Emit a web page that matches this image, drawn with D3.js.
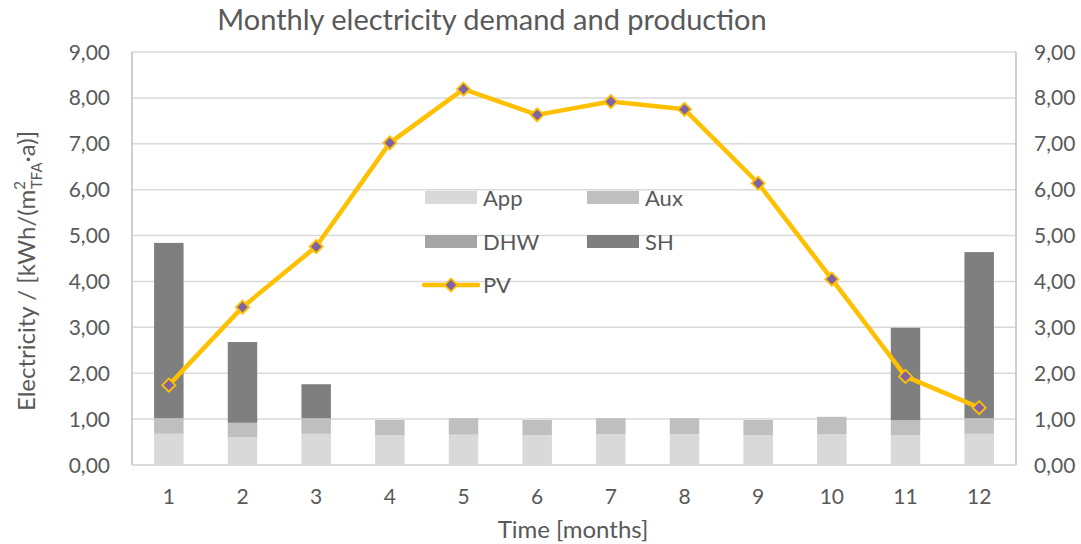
<!DOCTYPE html>
<html>
<head>
<meta charset="utf-8">
<script src="https://cdn.jsdelivr.net/npm/d3@7"></script>
<style>
  html, body { margin: 0; padding: 0; background: #fff; }
  svg text { font-family: Lato, "Open Sans", "Liberation Sans", sans-serif; fill: #595959; }
</style>
</head>
<body>
<svg id="chart" width="1081" height="544"></svg>
<script>
// Monthly electricity demand (stacked) and PV production, kWh/(m²TFA·a)
const months = [1, 2, 3, 4, 5, 6, 7, 8, 9, 10, 11, 12];
const app = [0.68, 0.61, 0.68, 0.65, 0.66, 0.65, 0.67, 0.67, 0.65, 0.67, 0.65, 0.68];
const aux = [0.34, 0.31, 0.34, 0.33, 0.36, 0.33, 0.35, 0.35, 0.33, 0.38, 0.33, 0.34];
const dhw = [0, 0, 0, 0, 0, 0, 0, 0, 0, 0, 0, 0];
const sh  = [3.82, 1.76, 0.74, 0, 0, 0, 0, 0, 0, 0, 2.01, 3.62];
const pv  = [1.74, 3.44, 4.76, 7.02, 8.19, 7.63, 7.92, 7.75, 6.14, 4.05, 1.93, 1.25];
const yTicks = [0, 1, 2, 3, 4, 5, 6, 7, 8, 9];

const seriesNames = ["App", "Aux", "DHW", "SH"];
const seriesColors = { App: "#d9d9d9", Aux: "#bfbfbf", DHW: "#a5a5a5", SH: "#7f7f7f" };
const pvColor = "#ffc000", markerFill = "#8064a2";

const svg = d3.select("#chart");
const plotL = 132, plotR = 1016, plotT = 52, plotB = 465;

const x = d3.scaleBand().domain(months).range([plotL, plotR]).paddingInner(0.6).paddingOuter(0.3);
const y = d3.scaleLinear().domain([0, 9]).range([plotB, plotT]);
const fmt = d => d.toFixed(2).replace(".", ",");

// gridlines
svg.append("g").selectAll("line").data(yTicks).join("line")
  .attr("x1", plotL).attr("x2", plotR)
  .attr("y1", d => y(d)).attr("y2", d => y(d))
  .attr("stroke", "#d9d9d9").attr("stroke-width", 1.5);

// plot side borders
svg.append("line").attr("x1", plotL).attr("x2", plotL).attr("y1", plotT).attr("y2", plotB)
  .attr("stroke", "#bfbfbf").attr("stroke-width", 1.5);
svg.append("line").attr("x1", plotR).attr("x2", plotR).attr("y1", plotT).attr("y2", plotB)
  .attr("stroke", "#bfbfbf").attr("stroke-width", 1.5);

// stacked bars
const rows = months.map((m, i) => ({ month: m, App: app[i], Aux: aux[i], DHW: dhw[i], SH: sh[i] }));
const stack = d3.stack().keys(seriesNames)(rows);
svg.append("g").selectAll("g").data(stack).join("g")
  .attr("fill", s => seriesColors[s.key])
  .selectAll("rect").data(s => s).join("rect")
  .attr("x", d => x(d.data.month))
  .attr("width", x.bandwidth())
  .attr("y", d => y(d[1]))
  .attr("height", d => Math.max(0, y(d[0]) - y(d[1])));

// x axis line
svg.append("line").attr("x1", plotL).attr("x2", plotR).attr("y1", plotB).attr("y2", plotB)
  .attr("stroke", "#d9d9d9").attr("stroke-width", 1.5);

// PV line
const cx = m => x(m) + x.bandwidth() / 2;
svg.append("path")
  .datum(months.map((m, i) => [cx(m), y(pv[i])]))
  .attr("d", d3.line())
  .attr("fill", "none").attr("stroke", pvColor).attr("stroke-width", 4.5)
  .attr("stroke-linejoin", "round");
const diamond = d3.symbol().type(d3.symbolDiamond2).size(110);
svg.append("g").selectAll("path").data(months).join("path")
  .attr("transform", (m, i) => `translate(${cx(m)},${y(pv[i])})`)
  .attr("d", diamond)
  .attr("fill", markerFill).attr("stroke", pvColor).attr("stroke-width", 1.8);

// y tick labels, both sides
svg.append("g").selectAll("text").data(yTicks).join("text")
  .attr("x", 110).attr("y", d => y(d)).attr("dy", "0.36em")
  .attr("text-anchor", "end").attr("font-size", 21).text(fmt);
svg.append("g").selectAll("text").data(yTicks).join("text")
  .attr("x", 1034).attr("y", d => y(d)).attr("dy", "0.36em")
  .attr("text-anchor", "start").attr("font-size", 21).text(fmt);

// x tick labels
svg.append("g").selectAll("text").data(months).join("text")
  .attr("x", d => cx(d)).attr("y", 504)
  .attr("text-anchor", "middle").attr("font-size", 21).text(d => d);

// titles
svg.append("text").attr("x", 492).attr("y", 30).attr("text-anchor", "middle")
  .attr("font-size", 29).text("Monthly electricity demand and production");
svg.append("text").attr("x", 573).attr("y", 538).attr("text-anchor", "middle")
  .attr("font-size", 24).text("Time [months]");

const yl = svg.append("text").attr("transform", "translate(35,271) rotate(-90)")
  .attr("text-anchor", "middle").attr("font-size", 24);
yl.append("tspan").text("Electricity / [kWh/(m");
yl.append("tspan").attr("font-size", 15).attr("dy", -10).text("2");
yl.append("tspan").attr("font-size", 15).attr("dx", -8).attr("dy", 17).text("TFA");
yl.append("tspan").attr("font-size", 24).attr("dy", -7).text("·a)]");

// legend
const legendItems = [
  { name: "App", x: 425, y: 198 }, { name: "Aux", x: 587, y: 198 },
  { name: "DHW", x: 425, y: 242 }, { name: "SH", x: 587, y: 242 }
];
const lg = svg.append("g");
legendItems.forEach(it => {
  lg.append("rect").attr("x", it.x).attr("y", it.y - 7).attr("width", 52).attr("height", 13)
    .attr("fill", seriesColors[it.name]);
  lg.append("text").attr("x", it.x + 58).attr("y", it.y).attr("dy", "0.36em")
    .attr("font-size", 22).text(it.name);
});
lg.append("line").attr("x1", 424).attr("x2", 478).attr("y1", 285).attr("y2", 285)
  .attr("stroke", pvColor).attr("stroke-width", 4.5).attr("stroke-linecap", "round");
lg.append("path").attr("transform", "translate(451,285)").attr("d", diamond)
  .attr("fill", markerFill).attr("stroke", pvColor).attr("stroke-width", 1.8);
lg.append("text").attr("x", 483).attr("y", 285).attr("dy", "0.36em")
  .attr("font-size", 22).text("PV");
</script>
</body>
</html>
